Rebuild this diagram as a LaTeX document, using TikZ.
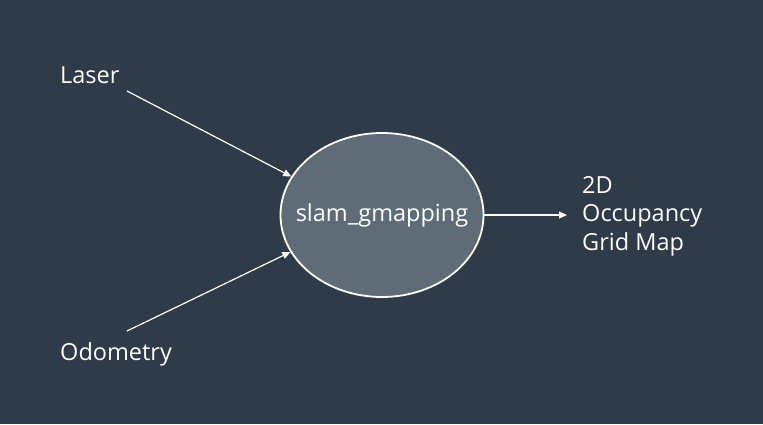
\documentclass[tikz,border=0pt]{standalone}
\usepackage{fontspec}
\setmainfont{Open Sans}
\usepackage{xcolor}
\usetikzlibrary{positioning,shapes.geometric,arrows.meta}

\definecolor{bgslate}{HTML}{2F3B49}
\definecolor{nodegray}{HTML}{5F6C77}

\begin{document}
\begin{tikzpicture}[
            x=1pt, y=-1pt,
            every node/.style={text=white, inner sep=0pt, font=\fontsize{23.5}{28.5}\selectfont},
            flow/.style={draw=white, line width=1.2pt, -{Triangle[length=8pt,width=7pt]}},
            procnode/.style={ellipse, draw=white, line width=1.8pt, fill=nodegray, minimum width=203pt, minimum height=164pt}
        ]
        \fill[bgslate] (0,0) rectangle (763,424);
        \useasboundingbox (0,0) rectangle (763,424);

        % Nodes
        \node (slam) [procnode] at (382,215) {\makebox[0pt]{slam\_gmapping}};
        \node (laser) [anchor=base west] at (60,83) {Laser};
        \node (odom) [anchor=base west] at (60,360) {Odometry};
        \node (map) [anchor=base west, align=left] at (582,250) {2D\\Occupancy\\Grid Map};
        \coordinate (laserout) at (127,91);
        \coordinate (odomout) at (127,331);
        \coordinate (mapin) at (567,215);

        % Arrows
        \draw[flow] (laserout) -- (slam.157.6);
        \draw[flow] (odomout) -- (slam.202.4);
        \draw[flow] (slam.east) -- (mapin);
        \end{tikzpicture}
\end{document}
